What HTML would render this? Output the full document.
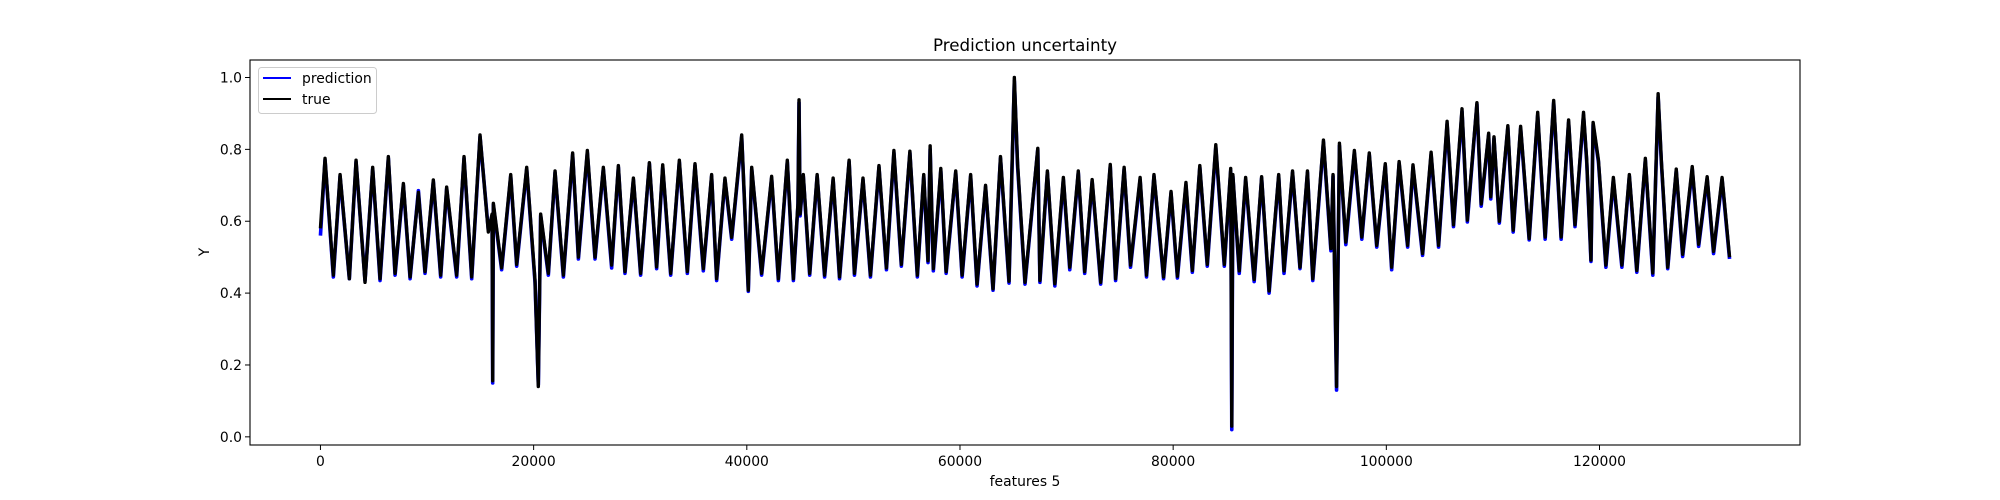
<!DOCTYPE html>
<html><head><meta charset="utf-8"><style>
body{margin:0;background:#fff}
svg{display:block;font-family:"DejaVu Sans","Liberation Sans",sans-serif}
</style></head><body>
<svg id="chart" width="2000" height="500" viewBox="0 0 2000 500" xmlns="http://www.w3.org/2000/svg">
<rect x="0" y="0" width="2000" height="500" fill="#fff"/>
<text x="1025" y="51" text-anchor="middle" font-size="16.7">Prediction uncertainty</text>
<g id="plot"></g>
<g id="axes"></g>
<text x="1025" y="486" text-anchor="middle" font-size="13.9">features 5</text>
<text x="0" y="0" transform="translate(209,252) rotate(-90)" text-anchor="middle" font-size="13.9">Y</text>
<g>
<rect x="258.5" y="67.5" width="118" height="46" rx="3" fill="#fff" fill-opacity="0.8" stroke="#ccc"/>
<line x1="263" y1="78" x2="291" y2="78" stroke="#0000ff" stroke-width="2"/>
<text x="302" y="83" font-size="13.9">prediction</text>
<line x1="263" y1="99" x2="291" y2="99" stroke="#000" stroke-width="2"/>
<text x="302" y="104" font-size="13.9">true</text>
</g>
</svg>
<script>
const xK = [0,0.43,1.21,1.84,2.71,3.34,4.18,4.90,5.59,6.37,7.00,7.78,8.41,9.19,9.81,10.59,11.28,11.84,12.78,13.47,14.19,14.97,15.75,16.10,16.16,16.22,17.00,17.85,18.41,19.35,20.13,20.44,20.66,21.38,22.01,22.79,23.66,24.20,25.04,25.76,26.54,27.32,27.95,28.57,29.36,30.04,30.86,31.54,32.11,32.86,33.67,34.42,35.14,35.92,36.70,37.17,37.95,38.58,39.52,40.14,40.46,41.39,42.33,42.96,43.80,44.37,44.80,44.90,45.0,
45.3,45.9,46.6,47.3,48.1,48.7,49.6,50.1,50.9,51.6,52.4,53.1,53.8,54.5,55.3,56.0,56.6,57.0,57.2,57.5,58.2,58.7,59.6,60.2,61.0,61.6,62.4,63.1,63.8,64.6,65.1,65.4,66.1,67.3,67.5,68.2,68.9,69.7,70.3,71.1,71.7,72.4,73.2,74.1,74.6,75.4,76.0,76.9,77.5,78.2,79.1,79.8,80.4,81.2,81.8,82.5,83.2,84.0,84.8,85.4,85.5,85.6,86.2,86.8,87.6,88.3,89.0,89.9,90.4,91.2,91.9,
92.6,93.1,94.1,94.8,95.0,95.33,95.6,96.2,97.0,97.7,98.4,99.1,99.9,100.5,101.2,102.0,102.5,103.4,104.2,104.9,105.7,106.3,107.1,107.6,108.5,108.9,109.6,109.8,110.1,110.6,111.4,111.9,112.6,113.4,114.2,114.9,115.7,116.4,117.1,117.7,118.5,118.8,119.2,119.4,119.9,120.6,121.3,122.1,122.8,123.5,124.3,125.0,125.5,125.8,126.4,127.2,127.8,128.7,129.3,130.1,130.7,131.5,132.2];
const trueY = [0.58,0.775,0.45,0.73,0.44,0.77,0.43,0.75,0.44,0.78,0.455,0.705,0.445,0.68,0.46,0.715,0.45,0.695,0.45,0.78,0.445,0.84,0.57,0.62,0.156,0.65,0.47,0.73,0.48,0.75,0.435,0.14,0.62,0.455,0.74,0.45,0.79,0.50,0.797,0.50,0.75,0.478,0.755,0.46,0.72,0.455,0.763,0.473,0.757,0.455,0.77,0.46,0.76,0.468,0.73,0.44,0.72,0.555,0.84,0.408,0.75,0.455,0.725,0.44,0.77,0.44,0.65,0.938,0.62,
0.73,0.455,0.73,0.45,0.72,0.445,0.77,0.455,0.72,0.45,0.755,0.47,0.797,0.48,0.795,0.45,0.73,0.49,0.81,0.468,0.747,0.46,0.74,0.45,0.73,0.425,0.70,0.412,0.78,0.433,1.0,0.762,0.43,0.803,0.435,0.74,0.426,0.722,0.472,0.74,0.46,0.716,0.43,0.758,0.44,0.75,0.478,0.722,0.45,0.73,0.445,0.683,0.447,0.708,0.463,0.755,0.48,0.813,0.48,0.747,0.03,0.73,0.462,0.722,0.438,0.724,0.406,0.73,0.462,0.74,0.472,
0.74,0.44,0.826,0.524,0.73,0.14,0.817,0.542,0.797,0.556,0.79,0.533,0.76,0.472,0.766,0.533,0.757,0.51,0.792,0.533,0.878,0.59,0.913,0.603,0.93,0.648,0.845,0.668,0.835,0.60,0.866,0.575,0.864,0.552,0.903,0.556,0.936,0.556,0.882,0.59,0.903,0.77,0.492,0.875,0.77,0.478,0.722,0.478,0.73,0.463,0.775,0.456,0.955,0.77,0.472,0.745,0.508,0.752,0.536,0.724,0.516,0.722,0.50];
const predY = [0.56,0.77,0.445,0.725,0.44,0.765,0.435,0.745,0.435,0.775,0.45,0.70,0.44,0.685,0.455,0.71,0.445,0.69,0.445,0.775,0.44,0.835,0.575,0.615,0.15,0.645,0.465,0.725,0.475,0.745,0.43,0.145,0.615,0.45,0.735,0.445,0.785,0.495,0.79,0.495,0.745,0.47,0.75,0.455,0.715,0.45,0.76,0.468,0.75,0.45,0.765,0.455,0.755,0.462,0.725,0.435,0.715,0.55,0.835,0.405,0.745,0.45,0.72,0.435,0.765,0.435,0.645,0.93,0.615,
0.725,0.45,0.725,0.445,0.715,0.44,0.765,0.45,0.715,0.445,0.75,0.465,0.79,0.475,0.79,0.445,0.725,0.485,0.80,0.462,0.74,0.455,0.735,0.445,0.725,0.42,0.695,0.408,0.775,0.428,0.99,0.755,0.425,0.80,0.43,0.735,0.42,0.715,0.465,0.735,0.455,0.71,0.425,0.752,0.435,0.745,0.472,0.715,0.445,0.725,0.44,0.678,0.442,0.70,0.458,0.75,0.475,0.805,0.475,0.74,0.02,0.725,0.455,0.715,0.432,0.72,0.40,0.725,0.455,0.735,0.468,
0.735,0.435,0.82,0.518,0.725,0.13,0.81,0.535,0.79,0.55,0.785,0.528,0.755,0.465,0.76,0.528,0.75,0.505,0.785,0.528,0.87,0.585,0.905,0.598,0.925,0.642,0.84,0.662,0.83,0.595,0.86,0.57,0.858,0.548,0.895,0.55,0.93,0.55,0.875,0.585,0.895,0.765,0.488,0.868,0.765,0.472,0.715,0.472,0.725,0.458,0.77,0.45,0.945,0.765,0.468,0.74,0.502,0.745,0.53,0.718,0.51,0.716,0.495];
const yTicks = [0.0,0.2,0.4,0.6,0.8,1.0];
const xTicks = [0,20000,40000,60000,80000,100000,120000];

const L=250,R=1800,T=60,B=445;
const XMIN=-6610, XMAX=138810, YMIN=-0.0227, YMAX=1.0487;
function xs(v){return L+(v-XMIN)/(XMAX-XMIN)*(R-L);}
function ys(v){return B-(v-YMIN)/(YMAX-YMIN)*(B-T);}
const NS='http://www.w3.org/2000/svg';
const plot=document.getElementById('plot'), axes=document.getElementById('axes');
function mk(tag,attrs,parent){const e=document.createElementNS(NS,tag);for(const k in attrs)e.setAttribute(k,attrs[k]);parent.appendChild(e);return e;}
function series(vals,color,w){
  let d='';
  for(let i=0;i<vals.length;i++){d+=(i?'L':'M')+xs(xK[i]*1000).toFixed(2)+' '+ys(vals[i]).toFixed(2);}
  return mk('path',{d:d,fill:'none',stroke:color,'stroke-width':w,'stroke-linejoin':'round'},plot);
}
const pl=series(predY,'#0000ff',3.6);


const tl=series(trueY,'#000000',3.4);


const frame=mk('rect',{x:L,y:T,width:R-L,height:B-T,fill:'none',stroke:'#000','stroke-width':1.1},axes);


yTicks.forEach(v=>{
  const y=ys(v);
  const t=mk('line',{x1:L-5,x2:L,y1:y,y2:y,stroke:'#000','stroke-width':1},axes);
  
  
  const lb=mk('text',{x:L-8,y:y+5,'text-anchor':'end','font-size':13.9},axes);
  
  
  lb.textContent=v.toFixed(1);
});
xTicks.forEach(v=>{
  const x=xs(v);
  const t=mk('line',{x1:x,x2:x,y1:B,y2:B+5,stroke:'#000','stroke-width':1},axes);
  
  
  const lb=mk('text',{x:x,y:B+21,'text-anchor':'middle','font-size':13.9},axes);
  
  
  lb.textContent=String(v);
});
</script>
</body></html>
